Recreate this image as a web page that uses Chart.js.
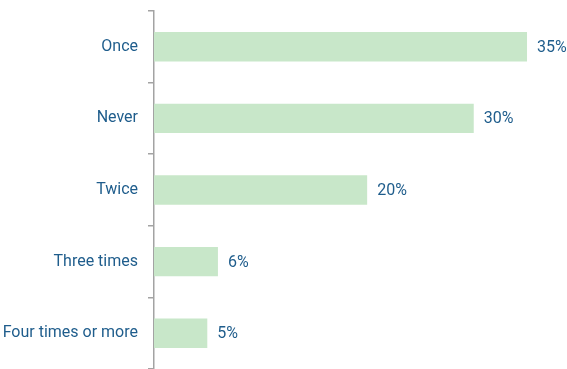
<!DOCTYPE html>
<html>
<head>
<meta charset="utf-8">
<script src="https://cdn.jsdelivr.net/npm/chart.js@4"></script>
<style>
  html, body { margin: 0; padding: 0; background: #fff; }
  #wrap { width: 567px; height: 369px; }
</style>
</head>
<body>
<div id="wrap"><canvas id="freqChart" width="567" height="369"></canvas></div>
<script>
const categories = ['Once', 'Never', 'Twice', 'Three times', 'Four times or more'];
const shares = [35, 30, 20, 6, 5];

const textColor = '#1f5d8c';
const fontFamily = "Roboto, 'Liberation Sans', sans-serif";

// writes the percentage just past the end of each bar
const valueLabels = {
    id: 'valueLabels',
    afterDatasetsDraw(chart) {
        const ctx = chart.ctx;
        const meta = chart.getDatasetMeta(0);
        ctx.save();
        ctx.font = '16px ' + fontFamily;
        ctx.fillStyle = textColor;
        ctx.textAlign = 'left';
        ctx.textBaseline = 'middle';
        meta.data.forEach((bar, i) => {
            ctx.fillText(shares[i] + '%', bar.x + 10, bar.y + 1);
        });
        ctx.restore();
    }
};

const ctx = document.getElementById('freqChart').getContext('2d');
new Chart(ctx, {
    type: 'bar',
    data: {
        labels: categories,
        datasets: [{
            data: shares,
            backgroundColor: '#c8e7c9',
            borderWidth: 0,
            categoryPercentage: 1,
            barPercentage: 0.41
        }]
    },
    options: {
        indexAxis: 'y',
        responsive: false,
        animation: false,
        layout: { padding: { top: 11, right: 8, bottom: 0, left: 0 } },
        plugins: {
            legend: { display: false },
            tooltip: { enabled: false }
        },
        scales: {
            x: {
                min: 0,
                max: 38,
                display: false
            },
            y: {
                afterFit(scale) {
                    scale.width = 154;
                    scale.paddingTop = 0;
                    scale.paddingBottom = 0;
                },
                border: { color: '#a3a3a3', width: 1.5 },
                grid: {
                    offset: true,
                    drawOnChartArea: false,
                    drawTicks: true,
                    tickLength: 6,
                    color: '#a3a3a3',
                    lineWidth: 1.5
                },
                ticks: {
                    color: textColor,
                    padding: 10,
                    font: { family: fontFamily, size: 16 }
                }
            }
        }
    },
    plugins: [valueLabels]
});
</script>
</body>
</html>
